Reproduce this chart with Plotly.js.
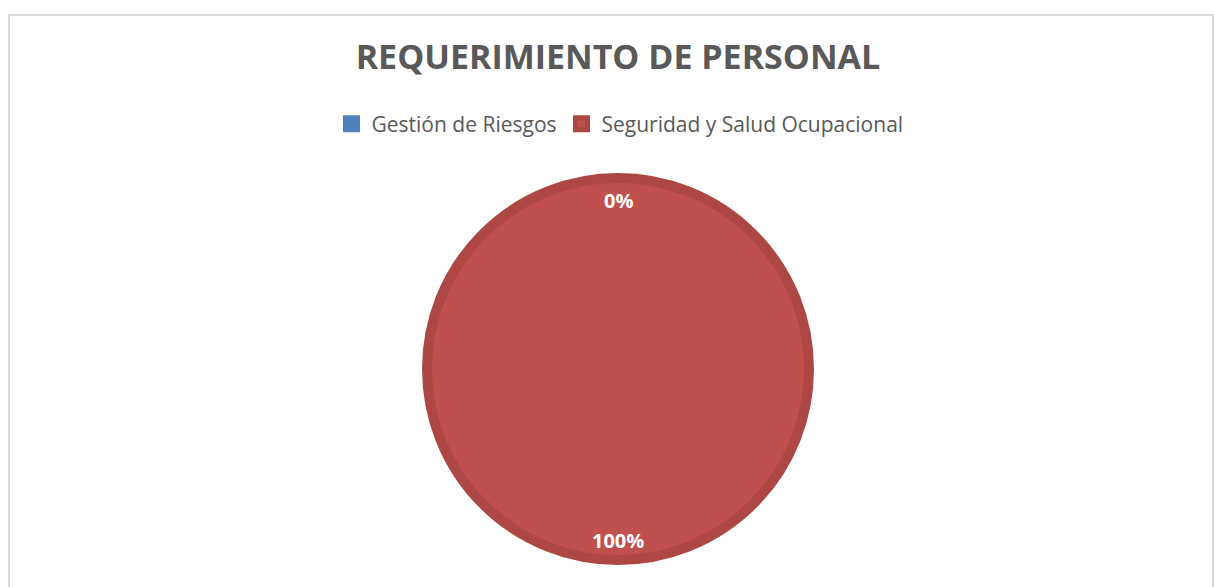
<!DOCTYPE html>
<html>
<head>
<meta charset="utf-8">
<script src="https://cdn.plot.ly/plotly-3.0.1.min.js"></script>
<style>
html,body{margin:0;padding:0;background:#fff;}
#chart{width:1214px;height:587px;}
</style>
</head>
<body>
<div id="chart"></div>
<script>
const categories = ["Gestión de Riesgos", "Seguridad y Salud Ocupacional"];
const values = [0, 100];
const colors = ["#4F81BD", "#C0504D"];
const outlineColors = ["#4F81BD", "#AD4744"];
const chartTitle = "REQUERIMIENTO DE PERSONAL";

const total = values.reduce((a, b) => a + b, 0);
const pctLabels = values.map(v => Math.round(v / total * 100) + "%");

const W = 1214, H = 587;
const cx = 618, cy = 369, r = 191;

const trace = {
  type: "pie",
  labels: categories,
  values: values,
  sort: false,
  direction: "clockwise",
  rotation: 0,
  marker: { colors: colors, line: { color: outlineColors, width: 10 } },
  textinfo: "none",
  hoverinfo: "label+percent",
  showlegend: true,
  domain: {
    x: [(cx - r) / W, (cx + r) / W],
    y: [(H - cy - r) / H, (H - cy + r) / H]
  }
};

const layout = {
  width: W, height: H,
  margin: { l: 0, r: 0, t: 0, b: 0 },
  paper_bgcolor: "#ffffff",
  font: { family: "Open Sans, sans-serif", color: "#595959" },
  title: {
    text: "<b>" + chartTitle + "</b>",
    font: { family: "Open Sans, sans-serif", size: 34, color: "#595959" },
    x: 0.509, xanchor: "center",
    y: 1 - 57 / H, yanchor: "middle", yref: "paper"
  },
  legend: {
    orientation: "h",
    x: 620 / W, xanchor: "center",
    y: 1 - 124 / H, yanchor: "middle",
    font: { family: "Open Sans, sans-serif", size: 21, color: "#595959" },
    itemwidth: 30,
    traceorder: "normal"
  },
  annotations: [
    { text: "<b>" + pctLabels[0] + "</b>", x: cx / W, y: 1 - 201 / H, xref: "paper", yref: "paper",
      xanchor: "center", yanchor: "middle",
      showarrow: false, font: { family: "Open Sans, sans-serif", size: 20, color: "#ffffff" } },
    { text: "<b>" + pctLabels[1] + "</b>", x: cx / W, y: 1 - 540 / H, xref: "paper", yref: "paper",
      xanchor: "center", yanchor: "middle",
      showarrow: false, font: { family: "Open Sans, sans-serif", size: 20, color: "#ffffff" } }
  ],
  shapes: [
    { type: "rect", xref: "paper", yref: "paper",
      x0: 9 / W, x1: 1213 / W, y0: -0.2, y1: 1 - 15 / H,
      line: { color: "#D9D9D9", width: 2 }, fillcolor: "rgba(0,0,0,0)", layer: "below" }
  ]
};

Plotly.newPlot("chart", [trace], layout, { displayModeBar: false, staticPlot: true });
</script>
</body>
</html>
